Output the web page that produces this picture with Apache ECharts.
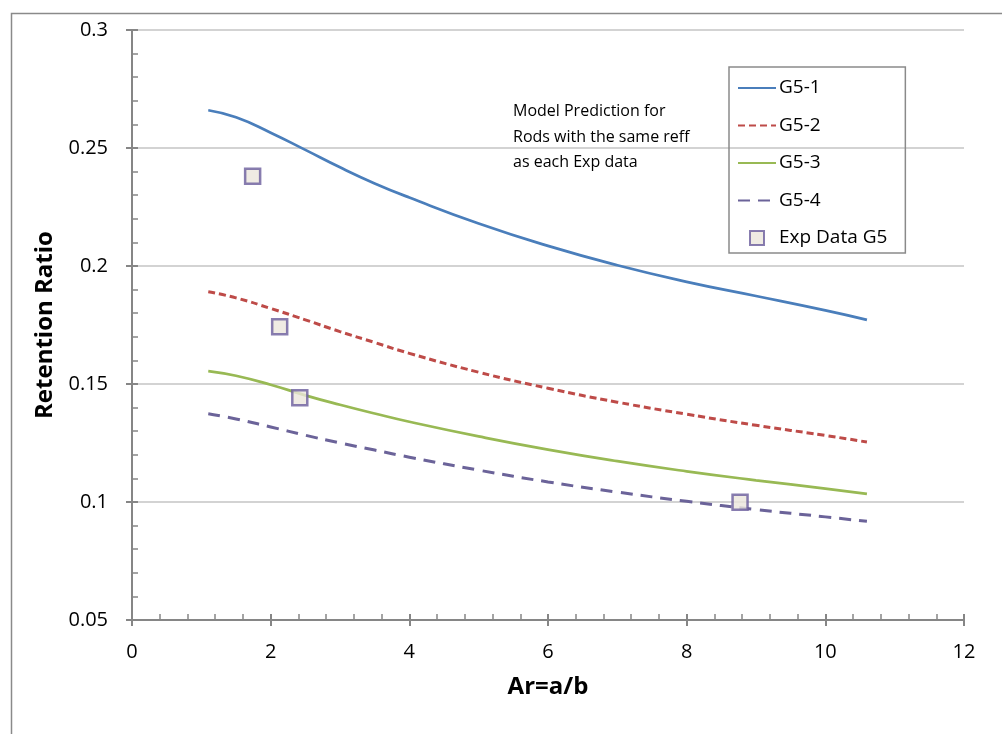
<!DOCTYPE html>
<html>
<head>
<meta charset="utf-8">
<script src="https://cdn.jsdelivr.net/npm/echarts@6/dist/echarts.min.js"></script>
<style>
html,body{margin:0;padding:0;background:#fff;}
#chart{width:1002px;height:734px;}
</style>
</head>
<body>
<div id="chart"></div>
<script>
var arValues = [1.1, 1.5, 2, 2.5, 3, 3.5, 4, 5, 6, 7, 8, 9, 10, 10.6];
var g51 = [0.266, 0.2630, 0.2565, 0.2492, 0.2418, 0.2350, 0.2290, 0.2180, 0.2085, 0.2003, 0.1933, 0.1873, 0.1812, 0.1772];
var g52 = [0.1891, 0.1865, 0.1820, 0.1772, 0.1722, 0.1676, 0.1630, 0.1550, 0.1482, 0.1423, 0.1372, 0.1325, 0.1282, 0.1254];
var g53 = [0.1555, 0.1535, 0.1497, 0.1452, 0.1412, 0.1375, 0.1340, 0.1278, 0.1222, 0.1173, 0.1130, 0.1092, 0.1057, 0.1034];
var g54 = [0.1374, 0.1352, 0.1318, 0.1283, 0.1250, 0.1220, 0.1190, 0.1135, 0.1085, 0.1042, 0.1003, 0.0968, 0.0937, 0.0918];
var expAr = [1.74, 2.13, 2.42, 8.77];
var expRatio = [0.238, 0.1743, 0.1442, 0.0999];
var seriesNames = ['G5-1', 'G5-2', 'G5-3', 'G5-4', 'Exp Data G5'];
var annotationLines = ['Model Prediction for', 'Rods with the same reff', 'as each Exp data'];

function pairs(xs, ys) { return xs.map(function (x, i) { return [x, ys[i]]; }); }

var FONT = '"Open Sans", "Noto Sans", sans-serif';
var chart = echarts.init(document.getElementById('chart'), null, {renderer: 'canvas'});

var axisColor = '#868686';
var hiddenSymbol = {color: 'rgba(0,0,0,0)', borderWidth: 0, opacity: 0};
var legendData = seriesNames.map(function (n, i) {
  if (i < 4) return {name: n, itemStyle: hiddenSymbol};
  return {name: n, icon: 'path://M0,0L10,0L10,10L0,10Z'};
});

var option = {
  backgroundColor: '#ffffff',
  animation: false,
  grid: {left: 132, right: 38, top: 30, bottom: 114, containLabel: false},
  xAxis: [{
    type: 'value', min: 0, max: 12, interval: 2,
    name: 'Ar=a/b', nameLocation: 'middle', nameGap: 55,
    nameTextStyle: {fontFamily: FONT, fontSize: 24, fontWeight: 'bold', color: '#000'},
    axisLine: {show: true, onZero: false, lineStyle: {color: axisColor, width: 2}},
    axisTick: {show: true, inside: true, length: 6, lineStyle: {color: axisColor, width: 2}},
    minorTick: {show: true, splitNumber: 5, length: 6, lineStyle: {color: axisColor, width: 1.5}},
    axisLabel: {fontFamily: FONT, fontSize: 20, color: '#000', margin: 22},
    splitLine: {show: false}
  }, {
    type: 'value', min: 0, max: 12, interval: 2, position: 'bottom',
    axisLine: {show: false},
    axisTick: {show: true, inside: false, length: 6, lineStyle: {color: axisColor, width: 2}},
    axisLabel: {show: false}, splitLine: {show: false}
  }],
  yAxis: [{
    type: 'value', min: 0.05, max: 0.3, interval: 0.05,
    name: 'Retention Ratio', nameLocation: 'middle', nameGap: 72,
    nameTextStyle: {fontFamily: FONT, fontSize: 24, fontWeight: 'bold', color: '#000'},
    axisLine: {show: true, onZero: false, lineStyle: {color: axisColor, width: 2}},
    axisTick: {show: true, inside: true, length: 6, lineStyle: {color: axisColor, width: 2}},
    minorTick: {show: true, splitNumber: 5, length: 6, lineStyle: {color: axisColor, width: 1.5}},
    axisLabel: {fontFamily: FONT, fontSize: 20, color: '#000', margin: 24},
    splitLine: {show: true, lineStyle: {color: '#c4c4c4', width: 1.5}}
  }, {
    type: 'value', min: 0.05, max: 0.3, interval: 0.05, position: 'left',
    axisLine: {show: false},
    axisTick: {show: true, inside: false, length: 6, lineStyle: {color: axisColor, width: 2}},
    axisLabel: {show: false}, splitLine: {show: false}
  }],
  legend: {
    orient: 'vertical', left: 729, top: 67,
    data: legendData,
    itemWidth: 38, itemHeight: 14, itemGap: 17.5,
    padding: [11, 18, 5, 8],
    borderColor: '#8a8a8a', borderWidth: 1.5,
    textStyle: {fontFamily: FONT, fontSize: 19, lineHeight: 20, color: '#000', padding: [0, 0, 0, -2]}
  },
  graphic: [
    {type: 'rect', silent: true, shape: {x: 11.5, y: 13.5, width: 1100, height: 1000},
     style: {fill: 'none', stroke: '#8a8a8a', lineWidth: 1.5}, z: -1},
    {type: 'text', left: 513, top: 99, silent: true,
     style: {text: annotationLines.join('\n'), fontFamily: FONT, fontSize: 16, lineHeight: 25.5, fill: '#000'}}
  ],
  series: [
    {name: seriesNames[0], type: 'line', smooth: true, symbol: 'none', data: pairs(arValues, g51),
     lineStyle: {color: '#4a7ebb', width: 2.75}, itemStyle: {color: '#4a7ebb'}},
    {name: seriesNames[1], type: 'line', smooth: true, symbol: 'none', data: pairs(arValues, g52),
     lineStyle: {color: '#be4b48', width: 3, type: [7, 4]}, itemStyle: {color: '#be4b48'}},
    {name: seriesNames[2], type: 'line', smooth: true, symbol: 'none', data: pairs(arValues, g53),
     lineStyle: {color: '#98b954', width: 2.75}, itemStyle: {color: '#98b954'}},
    {name: seriesNames[3], type: 'line', smooth: true, symbol: 'none', data: pairs(arValues, g54),
     lineStyle: {color: '#6b6399', width: 3, type: [12, 8]}, itemStyle: {color: '#6b6399'}},
    {name: seriesNames[4], type: 'scatter', symbol: 'rect', symbolSize: 15, data: pairs(expAr, expRatio),
     itemStyle: {color: '#ebe6dc', borderColor: '#6a5c9c', borderWidth: 2.5}, z: 5}
  ]
};
chart.setOption(option);
</script>
</body>
</html>
